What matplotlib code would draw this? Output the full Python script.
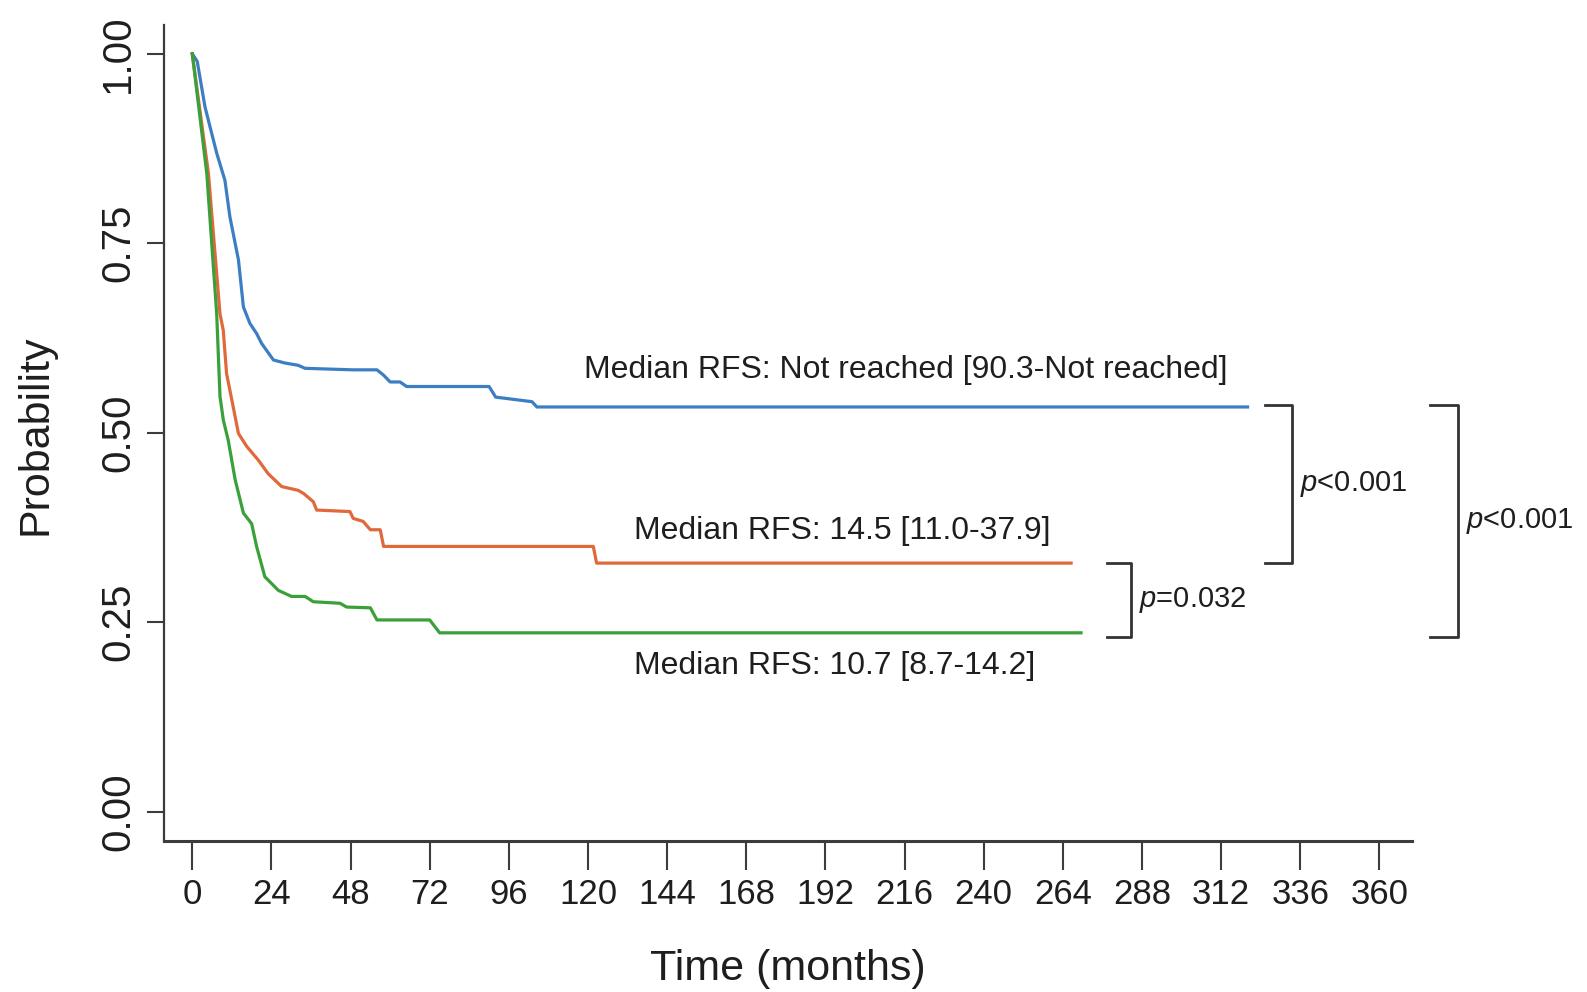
import matplotlib
matplotlib.use("Agg")
import matplotlib.pyplot as plt

plt.rcParams['font.family'] = ['Liberation Sans', 'DejaVu Sans']
plt.rcParams['mathtext.fontset'] = 'custom'
plt.rcParams['mathtext.rm'] = 'Liberation Sans'
plt.rcParams['mathtext.it'] = 'Liberation Sans:italic'

# curve vertices (months, probability)
blue_t = [0, 1.5, 3.85, 7.4, 9.9, 11.4, 14, 15.5, 17.5, 19.5, 21, 24.6, 28.1, 32.1, 34.2,
          48.8, 56, 58, 60, 63, 65, 90, 92, 103, 104.5, 320]
blue_s = [1.0, 0.99, 0.93, 0.869, 0.833, 0.785, 0.728, 0.666, 0.644, 0.631, 0.618, 0.596, 0.592, 0.589, 0.585,
          0.583, 0.583, 0.576, 0.567, 0.567, 0.561, 0.561, 0.547, 0.541, 0.534, 0.534]

orange_t = [0, 4.9, 8.4, 9.4, 10.4, 12, 14, 16.5, 20, 23, 27.1, 32.1, 33.7, 36.7, 37.7,
            47.8, 48.8, 51.8, 54, 57, 58, 121.6, 122.6, 266.5]
orange_s = [1.0, 0.842, 0.657, 0.635, 0.578, 0.543, 0.499, 0.482, 0.464, 0.446, 0.429, 0.424, 0.42, 0.409, 0.398,
            0.396, 0.387, 0.383, 0.372, 0.372, 0.35, 0.35, 0.328, 0.328]

green_t = [0, 4.4, 7.4, 8.4, 9.4, 10.9, 13, 15.5, 18, 19.5, 22, 26.1, 30.1, 34.2, 36.7,
           44.8, 46.8, 54, 56, 72, 75, 269.5]
green_s = [1.0, 0.842, 0.657, 0.548, 0.517, 0.49, 0.438, 0.394, 0.38, 0.35, 0.31, 0.292, 0.284, 0.284, 0.277,
           0.275, 0.27, 0.269, 0.253, 0.253, 0.236, 0.236]

colors = ['#3b7ec4', '#e0693b', '#3aa03a']

medians = ['Median RFS: Not reached [90.3-Not reached]',
           'Median RFS: 14.5 [11.0-37.9]',
           'Median RFS: 10.7 [8.7-14.2]']

# brackets: (vertical x, left x, top y, bottom y, label)
brackets = [(333.5, 325.4, 0.536, 0.328, '$p$<0.001'),
            (284.6, 277.3, 0.328, 0.230, '$p$=0.032'),
            (383.7, 375.4, 0.536, 0.230, '$p$<0.001')]

xticks = list(range(0, 361, 24))
yticks = [0.0, 0.25, 0.5, 0.75, 1.0]

fig = plt.figure(figsize=(15.87, 9.92), dpi=100)
ax = fig.add_axes([0.1035, 0.1522, 0.7861, 0.8226])

ax.plot(blue_t, blue_s, color=colors[0], lw=2.3)
ax.plot(orange_t, orange_s, color=colors[1], lw=2.3)
ax.plot(green_t, green_s, color=colors[2], lw=2.3)

ax.text(216.3, 0.583, medians[0], ha='center', va='center', fontsize=23, color='#1e1e1e')
ax.text(133.8, 0.37, medians[1], ha='left', va='center', fontsize=23, color='#1e1e1e')
ax.text(133.8, 0.192, medians[2], ha='left', va='center', fontsize=23, color='#1e1e1e')

for xv, xl, yt, yb, lab in brackets:
    ax.plot([xl, xv, xv, xl], [yt, yt, yb, yb], color='#333333', lw=2.0, clip_on=False)
    ax.text(xv + 2.5, (yt + yb) / 2, lab, ha='left', va='center', fontsize=21, color='#1e1e1e')

ax.set_xlim(-8.5, 369.8)
ax.set_ylim(-0.0387, 1.038)
ax.set_xticks(xticks)
ax.set_yticks(yticks)
ax.set_yticklabels(['0.00', '0.25', '0.50', '0.75', '1.00'], rotation=90, va='center')
ax.spines['top'].set_visible(False)
ax.spines['right'].set_visible(False)
for s in ['left', 'bottom']:
    ax.spines[s].set_color('#3c3c3c')
ax.spines['left'].set_linewidth(1.6)
ax.spines['bottom'].set_linewidth(2.2)
ax.tick_params(axis='x', length=20.9, width=1.5, color='#3c3c3c', labelsize=25, pad=5.5, labelcolor='#1e1e1e')
ax.tick_params(axis='y', length=12.2, width=1.5, color='#3c3c3c', labelsize=29, pad=7.5, labelcolor='#1e1e1e')

fig.text(0.4965, 0.0227, 'Time (months)', ha='center', va='center', fontsize=31, color='#1e1e1e')
fig.text(0.0223, 0.5615, 'Probability', ha='center', va='center', rotation=90, fontsize=31, color='#1e1e1e')

fig.savefig('out.png', dpi=100)
